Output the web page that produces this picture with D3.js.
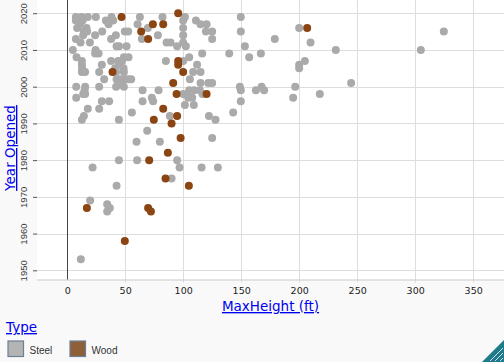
<!DOCTYPE html>
<html>
<head>
<meta charset="utf-8">
<script src="https://cdn.jsdelivr.net/npm/d3@7"></script>
<style>
  html, body { margin: 0; padding: 0; background: #f9f9f9; }
  svg { display: block; }
  .ttl { fill: #0000ee; text-decoration: underline; font-family: "DejaVu Sans", sans-serif; }
</style>
</head>
<body>
<div id="chart"></div>
<script>
// Steel coasters: max height (ft) and year opened
var steelHeight = [7.5, 12.4, 17.8, 24.7, 38.3, 62.7, 82.2, 7.5, 13.3, 11, 33.4, 39.7, 35.7, 8.6, 16.7, 14.4, 13.8, 17.2, 60.7,
  30.2, 24.1, 19.6, 11.6, 7.5, 37.9, 42, 49.7, 52.6, 69.6, 78.2, 64.4, 85.7, 42.6, 44.8, 51.2, 4.9, 24.5, 27.1, 24.1, 8.1,
  12.7, 12.7, 12.9, 15.5, 12.7, 27.6, 29.9, 37.9, 31.9, 41.4, 42.2, 44, 44.6, 47.2, 48.9, 52.9, 48.6, 48.9, 42.6, 44.8,
  47.8, 50, 52.9, 55.2, 45.2, 42.2, 48.9, 85.1, 7.8, 15.5, 15, 27.6, 7.8, 13.8, 15.5, 29.9, 36.2, 27.6, 17.8, 14.4,
  12.7, 44.6, 55.8, 65, 65, 73, 74.1, 78.8, 88.5, 69, 101.5, 100, 111, 115, 120.2, 100, 119.6, 125, 100, 125,
  89.1, 94.8, 100, 102.3, 149.7, 149.7, 153.2, 179, 200, 209.8, 100, 105.2, 112, 116.4, 139.7, 156.9, 167, 200, 200, 204.9,
  108.6, 115, 105.8, 115, 125, 100, 105.2, 109.5, 114.4, 116.7, 104.3, 107.8, 101.5, 109.2, 148.9, 149.7, 149.7, 162.7, 167.6, 169.8,
  196.6, 194.8, 217.8, 143.1, 122.2, 127.9, 125, 231.6, 244.8, 304.9, 324.7, 79.9, 94.8, 96.9, 115.9, 129.9, 90, 59.8, 21.9, 44.6,
  60.3, 42.6, 19.8, 34.5, 36.8, 34.5, 11.8, 121.7];
var steelYear = [2019, 2019, 2019, 2019, 2019, 2019, 2019, 2018, 2018, 2017, 2018, 2018, 2017, 2016, 2016, 2015, 2014, 2015, 2017,
  2015, 2014, 2012, 2012, 2013, 2013, 2014, 2015, 2015, 2016, 2014, 2013, 2012, 2011, 2011, 2011, 2010, 2010, 2009, 2009, 2008,
  2007, 2006, 2005, 2004, 2004, 2004, 2006, 2007, 2002, 2005, 2004, 2007, 2006, 2007, 2008, 2008, 2005, 2004, 2002, 2002,
  2002, 2002, 2002, 2002, 2001, 2000, 2000, 2007, 2000, 2000, 1999, 2000, 1997, 1998, 1998, 1996, 1996, 1994, 1994, 1992,
  1991, 1991, 1993, 1999, 1996, 1997, 1996, 1999, 1992, 1988, 2019, 2018, 2018, 2017, 2017, 2016, 2015, 2015, 2014, 2013,
  2012, 2011, 2012, 2011, 2019, 2015, 2011, 2013, 2016, 2012, 2007, 2008, 2006, 2009, 2009, 2008, 2009, 2006, 2005, 2007,
  2004, 2004, 2002, 2001, 2001, 1998, 1999, 1999, 1999, 1998, 1997, 1997, 1995, 1995, 2000, 1999, 1996, 1999, 2000, 1999,
  2000, 1997, 1998, 1993, 1992, 1991, 1986, 2010, 2001, 2010, 2015, 1985, 1980, 1978, 1978, 1978, 1975, 1985, 1978, 1980,
  1980, 1973, 1969, 1968, 1967, 1966, 1953, 2001];

// Wood coasters
var woodHeight = [46.9, 73.9, 82.8, 63.8, 69.8, 39.1, 82.8, 74.7, 95.7, 206.9, 95.7, 95.7, 100, 91.4, 94.3, 120.2, 94.8, 90,
  97.8, 86.8, 84.8, 104.9, 70.7, 17, 69.8, 72.2, 49.7];
var woodYear = [2019, 2017, 2017, 2015, 2013, 2004, 1994, 1991, 2020, 2016, 2007, 2006, 2004, 2001, 1998, 1998, 1992, 1990,
  1986, 1982, 1975, 1973, 1980, 1967, 1967, 1966, 1958];

var xTicks = [0, 50, 100, 150, 200, 250, 300, 350];
var yTicks = [1950, 1960, 1970, 1980, 1990, 2000, 2010, 2020];
var typeNames = ['Steel', 'Wood'];
var typeColors = ['#aaaaaa', '#8b4513'];
var swatchColors = ['#b4b4b4', '#8f5f37'];

var W = 504, H = 362;
var plot = {left: 37, right: 501, top: 0, bottom: 279.5};

var svg = d3.select('#chart').append('svg')
    .attr('width', W)
    .attr('height', H);

var x = d3.scaleLinear().domain([-26, 374]).range([plot.left, plot.right]);
var y = d3.scaleLinear().domain([1947.5, 2023.6]).range([plot.bottom, plot.top]);

// plot background
svg.append('rect')
    .attr('x', plot.left).attr('y', 0)
    .attr('width', W - plot.left).attr('height', plot.bottom)
    .attr('fill', '#ffffff');

// grid
svg.append('g').selectAll('line')
    .data(xTicks.filter(function(d) { return d !== 0; }))
    .enter().append('line')
    .attr('x1', function(d) { return Math.round(x(d)) + 0.5; })
    .attr('x2', function(d) { return Math.round(x(d)) + 0.5; })
    .attr('y1', 0).attr('y2', plot.bottom + 3)
    .style('stroke', '#dddddd');

svg.append('g').selectAll('line')
    .data(yTicks)
    .enter().append('line')
    .attr('x1', plot.left).attr('x2', W)
    .attr('y1', function(d) { return Math.round(y(d)) + 0.5; })
    .attr('y2', function(d) { return Math.round(y(d)) + 0.5; })
    .style('stroke', '#dddddd');

// bottom edge
svg.append('line')
    .attr('x1', plot.left).attr('x2', W)
    .attr('y1', plot.bottom + 0.5).attr('y2', plot.bottom + 0.5)
    .style('stroke', '#cccccc');

// zero line
svg.append('line')
    .attr('x1', Math.round(x(0)) + 0.5).attr('x2', Math.round(x(0)) + 0.5)
    .attr('y1', 0).attr('y2', plot.bottom)
    .style('stroke', '#444444');

// y axis
var yAxis = svg.append('g')
    .attr('transform', 'translate(' + plot.left + ',0)')
    .call(d3.axisLeft(y).tickValues(yTicks).tickFormat(d3.format('d')).tickSize(4).tickPadding(4));
yAxis.select('.domain').remove();
yAxis.selectAll('.tick line').style('stroke', '#555555');
yAxis.selectAll('.tick text')
    .attr('x', 0).attr('dy', 0)
    .attr('transform', 'translate(-10,0) rotate(-90)')
    .attr('text-anchor', 'middle')
    .style('font-family', '"Liberation Sans", Arial, sans-serif')
    .style('font-size', '9.5px')
    .style('fill', '#3a3a3a');

// x axis labels
var xAxis = svg.append('g')
    .attr('transform', 'translate(0,' + plot.bottom + ')')
    .call(d3.axisBottom(x).tickValues(xTicks).tickSize(0).tickPadding(8));
xAxis.select('.domain').remove();
xAxis.selectAll('.tick text')
    .style('font-family', '"DejaVu Sans", sans-serif')
    .style('font-size', '9.5px')
    .style('fill', '#222222');

// points
var steel = steelHeight.map(function(h, i) { return {h: h, yr: steelYear[i], t: 0}; });
var wood = woodHeight.map(function(h, i) { return {h: h, yr: woodYear[i], t: 1}; });
svg.append('g').selectAll('circle')
    .data(steel.concat(wood))
    .enter().append('circle')
    .attr('cx', function(d) { return x(d.h); })
    .attr('cy', function(d) { return y(d.yr); })
    .attr('r', 4)
    .attr('fill', function(d) { return typeColors[d.t]; });

// axis titles
svg.append('text')
    .attr('class', 'ttl')
    .attr('x', 270.5).attr('y', 311)
    .attr('text-anchor', 'middle')
    .style('font-size', '13.5px')
    .text('MaxHeight (ft)');

svg.append('text')
    .attr('class', 'ttl')
    .attr('transform', 'translate(15,148) rotate(-90)')
    .attr('text-anchor', 'middle')
    .style('font-size', '13.5px')
    .text('Year Opened');

// legend
svg.append('text')
    .attr('class', 'ttl')
    .attr('x', 6).attr('y', 332)
    .style('font-size', '13.5px')
    .text('Type');

var legend = svg.append('g').selectAll('g')
    .data(typeNames)
    .enter().append('g')
    .attr('transform', function(d, i) { return 'translate(' + (8 + i * 62) + ',341)'; });
legend.append('rect')
    .attr('width', 15.5).attr('height', 15.5)
    .attr('fill', function(d, i) { return swatchColors[i]; })
    .style('stroke', '#6b7f95')
    .style('stroke-width', 1.2);
legend.append('text')
    .attr('x', 21.5).attr('y', 12.5)
    .style('font-family', '"Liberation Sans", Arial, sans-serif')
    .style('font-size', '10px')
    .style('fill', '#333333')
    .text(function(d) { return d; });

// resize handle in corner
svg.append('path')
    .attr('d', 'M' + W + ',' + (H - 22) + 'L' + W + ',' + H + 'L' + (W - 22) + ',' + H + 'Z')
    .attr('fill', '#1f7b8c');
[6, 11, 16].forEach(function(k) {
  svg.append('line')
    .attr('x1', W - k + 2).attr('y1', H - 1)
    .attr('x2', W - 1).attr('y2', H - k + 2)
    .style('stroke', '#cfe3e8')
    .style('stroke-width', 1);
});
</script>
</body>
</html>
